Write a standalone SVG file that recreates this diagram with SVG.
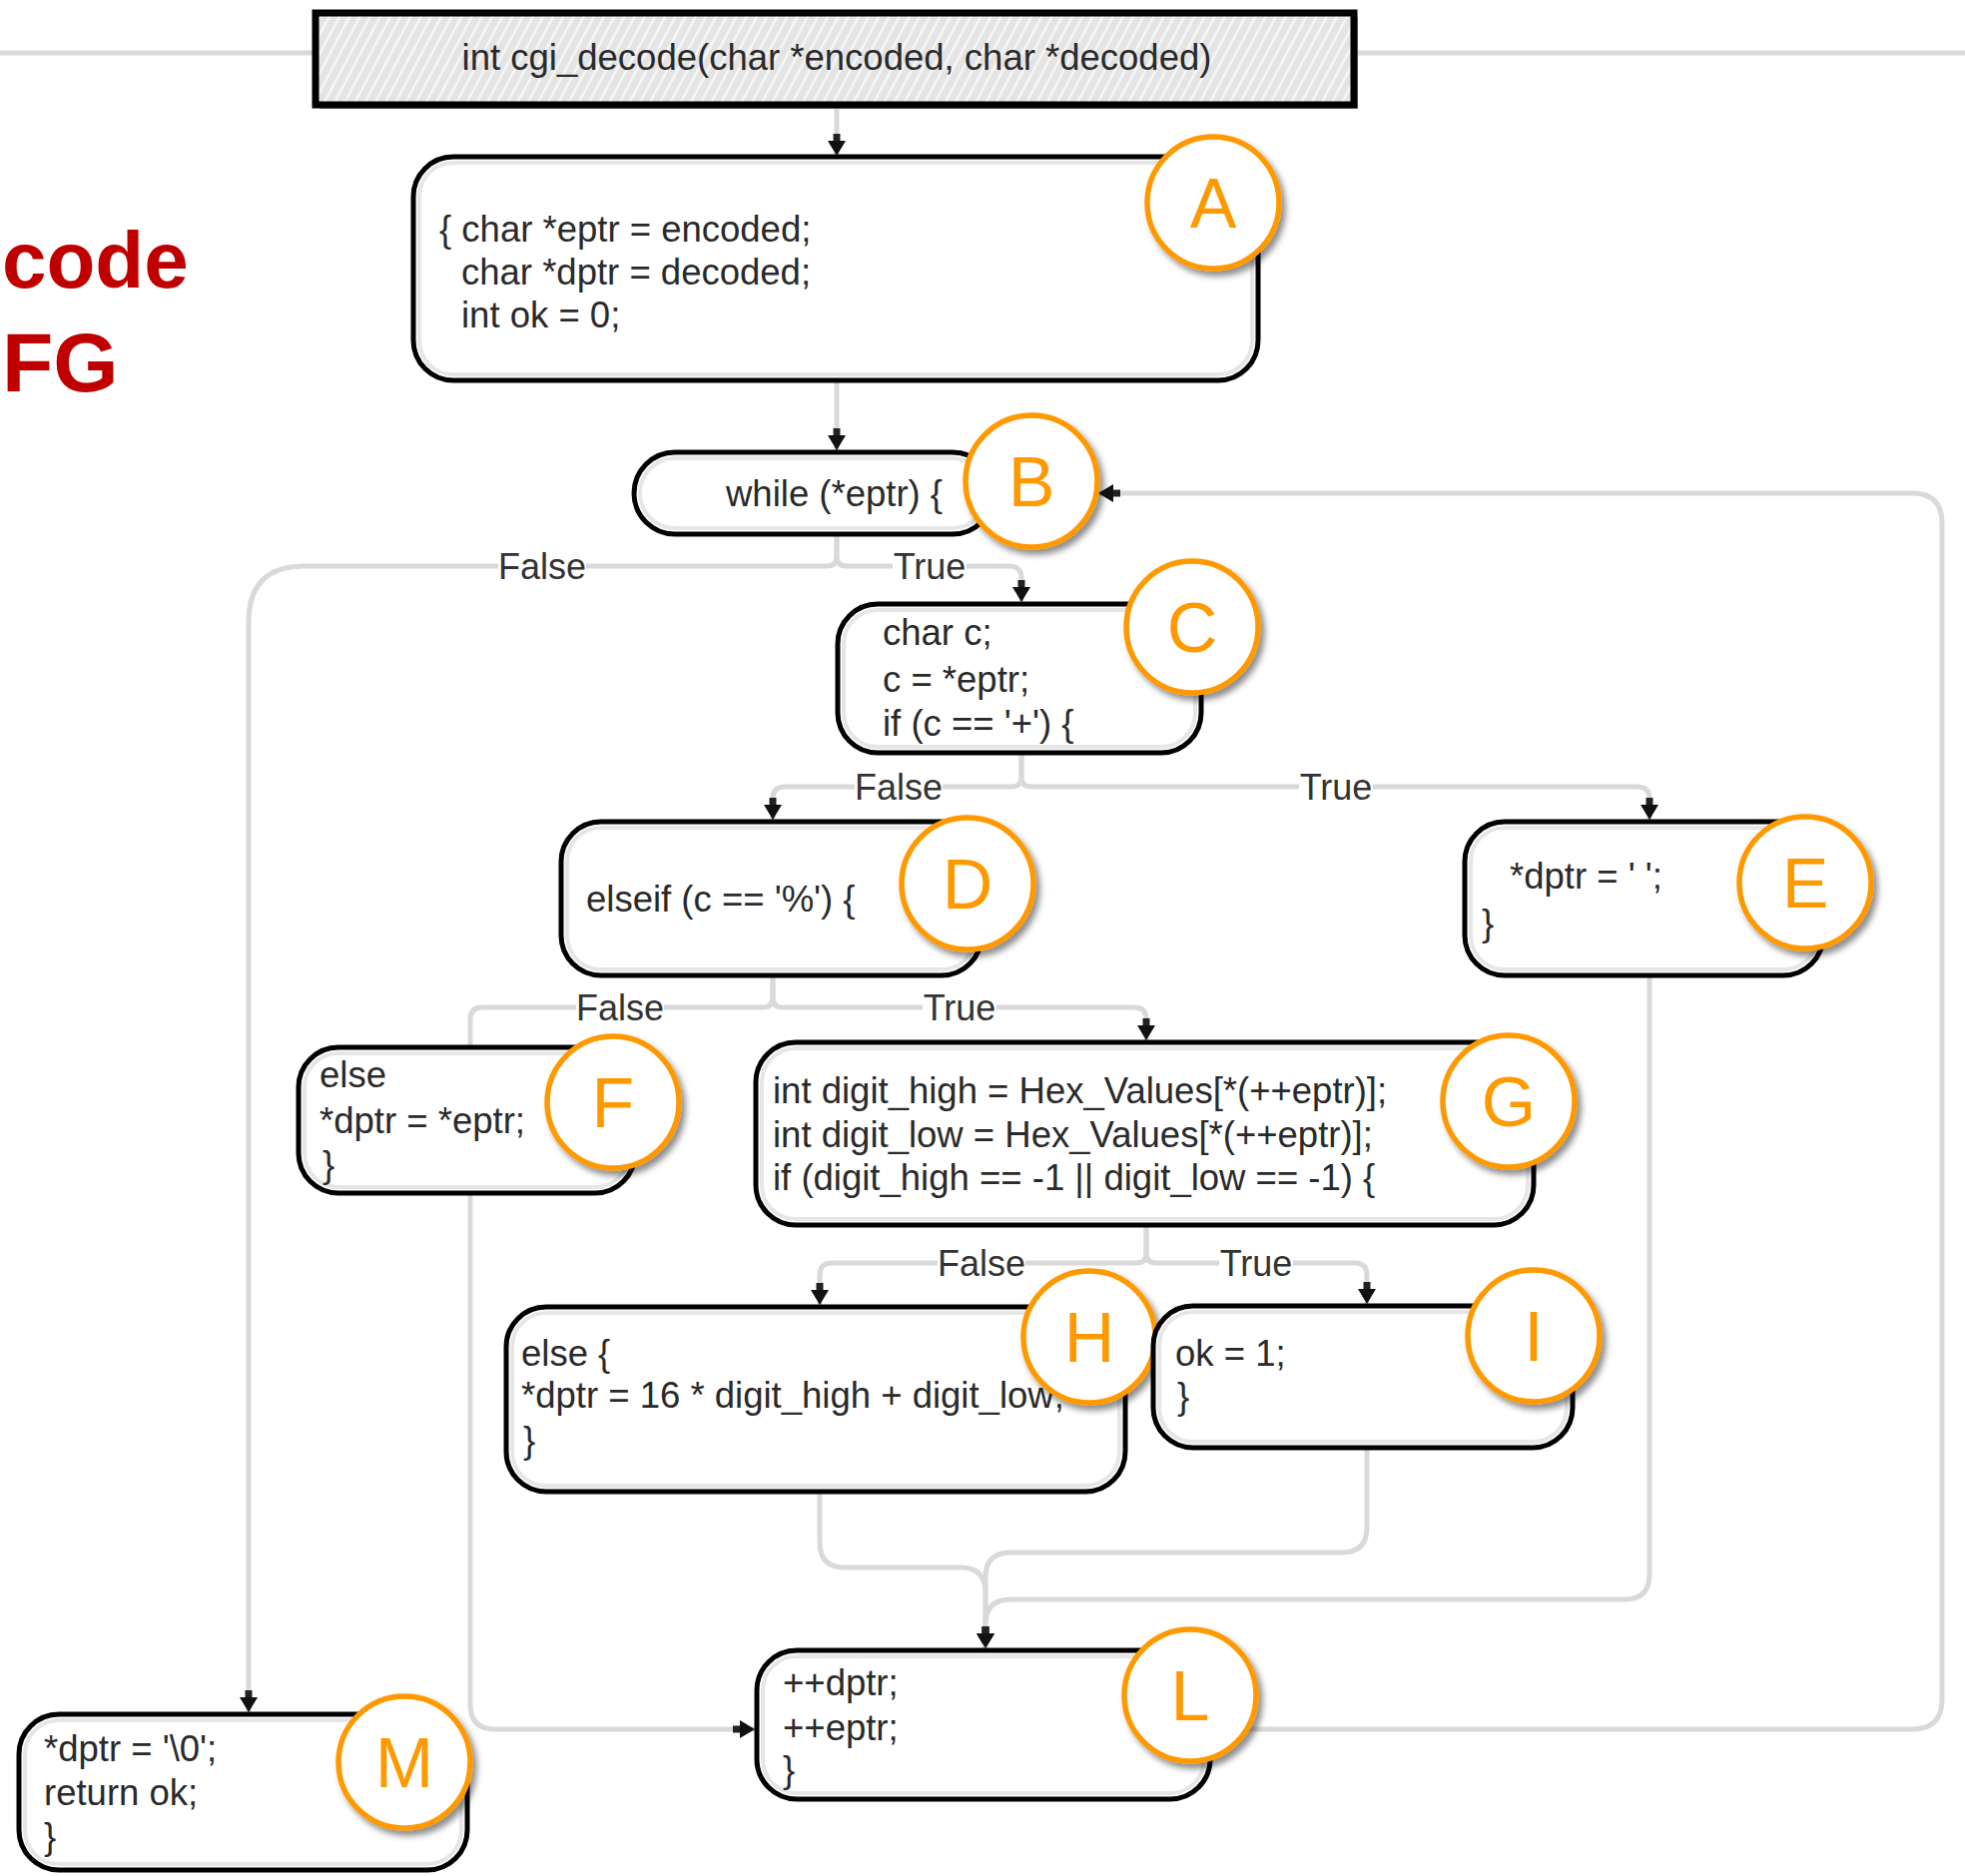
<svg xmlns="http://www.w3.org/2000/svg" width="1968" height="1879" viewBox="0 0 1968 1879">
  <style>
    .t { font-family: "Liberation Sans", Arial, sans-serif; font-size: 36.5px; fill: #2a2a2a; }
    .lbl { font-family: "Liberation Sans", Arial, sans-serif; font-size: 36px; fill: #333; text-anchor: middle; }
    .lblbg { fill: #fff; }
    .node { fill: #fff; stroke: #000; stroke-width: 5; }
    .inner { fill: none; stroke: #e6e6e6; stroke-width: 4; }
    .badge circle { fill: #fff; stroke: #ff9900; stroke-width: 5.5; filter: url(#shadow); }
    .badge text { font-family: "Liberation Sans", Arial, sans-serif; font-size: 70px; fill: #ff9900; text-anchor: middle; }
    .edge { fill: none; stroke: #d9d9d9; stroke-width: 5; }
    .title { font-family: "Liberation Sans", Arial, sans-serif; font-weight: bold; fill: #c00000; }
  </style>
  <defs>
    <marker id="arr" viewBox="0 0 24 18" refX="24" refY="9" markerWidth="24" markerHeight="18" markerUnits="userSpaceOnUse" orient="auto">
      <rect x="2" y="5.5" width="12" height="7" fill="#222"/>
      <path d="M9,0 L24,9 L9,18 z" fill="#111"/>
    </marker>
    <pattern id="hatch" patternUnits="userSpaceOnUse" width="9" height="9" patternTransform="rotate(28)">
      <rect width="9" height="9" fill="#e4e4e4"/>
      <line x1="2" y1="0" x2="2" y2="9" stroke="#f7f7f7" stroke-width="2.5"/>
    </pattern>
    <filter id="shadow" x="-30%" y="-30%" width="170%" height="170%">
      <feDropShadow dx="4" dy="5" stdDeviation="3" flood-color="#000" flood-opacity="0.45"/>
    </filter>
  </defs>

  <rect width="1968" height="1879" fill="#fff"/>

  <!-- page rule behind the function header -->
  <line x1="0" y1="53" x2="1968" y2="53" stroke="#d9d9d9" stroke-width="5"/>

  <!-- slide title -->
  <text class="title" x="2" y="288" font-size="80">code</text>
  <text class="title" x="2" y="392" font-size="84">FG</text>

  <!-- connectors -->
  <g id="edges">
    <path class="edge" d="M838,107 V156" marker-end="url(#arr)"/>
    <path class="edge" d="M838,382 V451" marker-end="url(#arr)"/>
    <path class="edge" d="M838,537 V557 Q838,567 848,567 H1011 Q1023,567 1023,579 V603" marker-end="url(#arr)"/>
    <path class="edge" d="M838,537 V557 Q838,567 828,567 H305 Q249,567 249,623 V1715" marker-end="url(#arr)"/>
    <path class="edge" d="M1023,755 V778 Q1023,788 1033,788 H1640 Q1652,788 1652,800 V821" marker-end="url(#arr)"/>
    <path class="edge" d="M1023,755 V778 Q1023,788 1013,788 H786 Q774,788 774,800 V821" marker-end="url(#arr)"/>
    <path class="edge" d="M774,978 V999 Q774,1009 784,1009 H1136 Q1148,1009 1148,1021 V1042" marker-end="url(#arr)"/>
    <path class="edge" d="M774,978 V999 Q774,1009 764,1009 H483 Q471,1009 471,1021 V1047"/>
    <path class="edge" d="M1148,1229 V1255 Q1148,1265 1158,1265 H1357 Q1369,1265 1369,1277 V1306" marker-end="url(#arr)"/>
    <path class="edge" d="M1148,1229 V1255 Q1148,1265 1138,1265 H833 Q821,1265 821,1277 V1307" marker-end="url(#arr)"/>
    <path class="edge" d="M471,1197 V1707 Q471,1732 496,1732 H756" marker-end="url(#arr)"/>
    <path class="edge" d="M821,1496 V1545 Q821,1570 846,1570 H962 Q987,1570 987,1595 V1651" marker-end="url(#arr)"/>
    <path class="edge" d="M1369,1452 V1530 Q1369,1555 1344,1555 H1012 Q987,1555 987,1580 V1651" marker-end="url(#arr)"/>
    <path class="edge" d="M1652,978 V1577 Q1652,1602 1627,1602 H1012 Q987,1602 987,1627 V1651" marker-end="url(#arr)"/>
    <path class="edge" d="M1214,1732 H1915 Q1945,1732 1945,1702 V524 Q1945,494 1915,494 H1100" marker-end="url(#arr)"/>

    <!-- branch labels -->
    <rect class="lblbg" x="499" y="554" width="88" height="27"/>
    <text class="lbl" x="543" y="580">False</text>
    <rect class="lblbg" x="894" y="554" width="74" height="27"/>
    <text class="lbl" x="931" y="580">True</text>
    <rect class="lblbg" x="856" y="775" width="88" height="27"/>
    <text class="lbl" x="900" y="801">False</text>
    <rect class="lblbg" x="1301" y="775" width="74" height="27"/>
    <text class="lbl" x="1338" y="801">True</text>
    <rect class="lblbg" x="577" y="996" width="88" height="27"/>
    <text class="lbl" x="621" y="1022">False</text>
    <rect class="lblbg" x="924" y="996" width="74" height="27"/>
    <text class="lbl" x="961" y="1022">True</text>
    <rect class="lblbg" x="939" y="1252" width="88" height="27"/>
    <text class="lbl" x="983" y="1278">False</text>
    <rect class="lblbg" x="1221" y="1252" width="74" height="27"/>
    <text class="lbl" x="1258" y="1278">True</text>
  </g>

  <!-- function header -->
  <g id="header">
    <rect x="320" y="17" width="1040" height="92" fill="#9a9a9a"/>
    <rect x="316" y="13" width="1040" height="92" fill="url(#hatch)" stroke="#000" stroke-width="7"/>
    <text class="t" x="838" y="70" text-anchor="middle">int cgi_decode(char *encoded, char *decoded)</text>
  </g>

  <g id="node-A">
    <rect class="node" x="414" y="157" width="846" height="224" rx="40"/>
    <rect class="inner" x="420" y="163" width="834" height="212" rx="34"/>
    <text class="t" x="440" y="242">{ char *eptr = encoded;</text>
    <text class="t" x="462" y="285">char *dptr = decoded;</text>
    <text class="t" x="462" y="328">int ok = 0;</text>
    <g class="badge"><circle cx="1215" cy="203" r="66"/><text x="1215" y="228">A</text></g>
  </g>

  <g id="node-B">
    <rect class="node" x="635" y="453" width="360" height="82" rx="41"/>
    <rect class="inner" x="641" y="459" width="348" height="70" rx="35"/>
    <text class="t" x="727" y="507">while (*eptr) {</text>
    <g class="badge"><circle cx="1033" cy="482" r="66"/><text x="1033" y="507">B</text></g>
  </g>

  <g id="node-C">
    <rect class="node" x="839" y="605" width="364" height="149" rx="40"/>
    <rect class="inner" x="845" y="611" width="352" height="137" rx="34"/>
    <text class="t" x="884" y="646">char c;</text>
    <text class="t" x="884" y="693">c = *eptr;</text>
    <text class="t" x="884" y="737">if (c == '+') {</text>
    <g class="badge"><circle cx="1194" cy="628" r="66"/><text x="1194" y="653">C</text></g>
  </g>

  <g id="node-D">
    <rect class="node" x="562" y="823" width="421" height="154" rx="40"/>
    <rect class="inner" x="568" y="829" width="409" height="142" rx="34"/>
    <text class="t" x="587" y="913">elseif (c == '%') {</text>
    <g class="badge"><circle cx="969" cy="885" r="66"/><text x="969" y="910">D</text></g>
  </g>

  <g id="node-E">
    <rect class="node" x="1467" y="823" width="359" height="154" rx="40"/>
    <rect class="inner" x="1473" y="829" width="347" height="142" rx="34"/>
    <text class="t" x="1512" y="890">*dptr = ' ';</text>
    <text class="t" x="1484" y="937">}</text>
    <g class="badge"><circle cx="1808" cy="884" r="66"/><text x="1808" y="909">E</text></g>
  </g>

  <g id="node-F">
    <rect class="node" x="299" y="1049" width="337" height="146" rx="40"/>
    <rect class="inner" x="305" y="1055" width="325" height="134" rx="34"/>
    <text class="t" x="320" y="1089">else</text>
    <text class="t" x="320" y="1135">*dptr = *eptr;</text>
    <text class="t" x="323" y="1179">}</text>
    <g class="badge"><circle cx="614" cy="1104" r="66"/><text x="614" y="1129">F</text></g>
  </g>

  <g id="node-G">
    <rect class="node" x="757" y="1044" width="779" height="183" rx="40"/>
    <rect class="inner" x="763" y="1050" width="767" height="171" rx="34"/>
    <text class="t" x="774" y="1105">int digit_high = Hex_Values[*(++eptr)];</text>
    <text class="t" x="774" y="1149">int digit_low = Hex_Values[*(++eptr)];</text>
    <text class="t" x="774" y="1192">if (digit_high == -1 || digit_low == -1) {</text>
    <g class="badge"><circle cx="1511" cy="1103" r="66"/><text x="1511" y="1128">G</text></g>
  </g>

  <g id="node-H">
    <rect class="node" x="507" y="1309" width="620" height="185" rx="40"/>
    <rect class="inner" x="513" y="1315" width="608" height="173" rx="34"/>
    <text class="t" x="522" y="1368">else {</text>
    <text class="t" x="522" y="1410">*dptr = 16 * digit_high + digit_low;</text>
    <text class="t" x="524" y="1455">}</text>
    <g class="badge"><circle cx="1091" cy="1339" r="66"/><text x="1091" y="1364">H</text></g>
  </g>

  <g id="node-I">
    <rect class="node" x="1155" y="1308" width="420" height="142" rx="40"/>
    <rect class="inner" x="1161" y="1314" width="408" height="130" rx="34"/>
    <text class="t" x="1177" y="1368">ok = 1;</text>
    <text class="t" x="1179" y="1411">}</text>
    <g class="badge"><circle cx="1536" cy="1338" r="66"/><text x="1536" y="1363">I</text></g>
  </g>

  <g id="node-L">
    <rect class="node" x="758" y="1653" width="454" height="149" rx="40"/>
    <rect class="inner" x="764" y="1659" width="442" height="137" rx="34"/>
    <text class="t" x="784" y="1698">++dptr;</text>
    <text class="t" x="784" y="1743">++eptr;</text>
    <text class="t" x="784" y="1785">}</text>
    <g class="badge"><circle cx="1192" cy="1698" r="66"/><text x="1192" y="1723">L</text></g>
  </g>

  <g id="node-M">
    <rect class="node" x="19" y="1717" width="449" height="156" rx="40"/>
    <rect class="inner" x="25" y="1723" width="437" height="144" rx="34"/>
    <text class="t" x="44" y="1764">*dptr = '\0';</text>
    <text class="t" x="44" y="1808">return ok;</text>
    <text class="t" x="44" y="1852">}</text>
    <g class="badge"><circle cx="405" cy="1765" r="66"/><text x="405" y="1790">M</text></g>
  </g>
</svg>
